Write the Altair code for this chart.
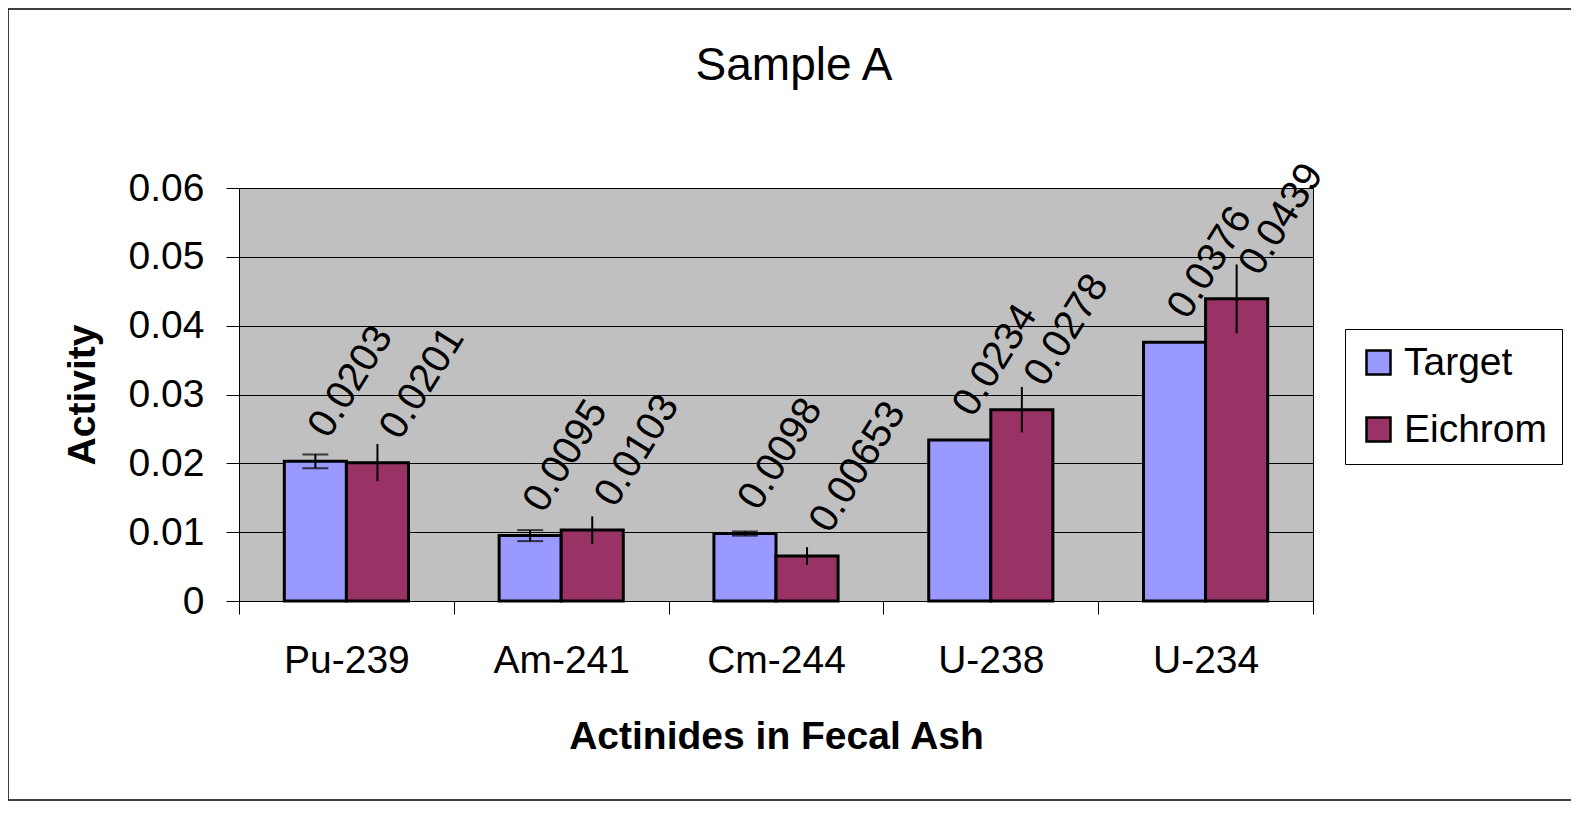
import altair as alt
import pandas as pd

categories = ["Pu-239", "Am-241", "Cm-244", "U-238", "U-234"]
series = ["Target", "Eichrom"]
target = [0.0203, 0.0095, 0.0098, 0.0234, 0.0376]
eichrom = [0.0201, 0.0103, 0.00653, 0.0278, 0.0439]
target_err = [0.001, 0.0008, 0.0003, None, None]
eichrom_err = [0.0027, 0.002, 0.0013, 0.0033, 0.005]
target_labels = ["0.0203", "0.0095", "0.0098", "0.0234", "0.0376"]
eichrom_labels = ["0.0201", "0.0103", "0.00653", "0.0278", "0.0439"]

rows = []
for i, c in enumerate(categories):
    rows.append(dict(Nuclide=c, Series="Target", Value=target[i], Err=target_err[i], Label=target_labels[i]))
    rows.append(dict(Nuclide=c, Series="Eichrom", Value=eichrom[i], Err=eichrom_err[i], Label=eichrom_labels[i]))
df = pd.DataFrame(rows)
df["Lo"] = df["Value"] - df["Err"]
df["Hi"] = df["Value"] + df["Err"]
err_df = df.dropna(subset=["Err"])
cap_df = err_df[err_df["Series"] == "Target"]
t_df = df[df["Series"] == "Target"]
e_df = df[df["Series"] == "Eichrom"]

FONT = "Liberation Sans"

x_enc = alt.X("Nuclide:N", sort=categories,
              scale=alt.Scale(paddingInner=0, paddingOuter=0),
              axis=alt.Axis(title="Actinides in Fecal Ash", labelAngle=0, tickBand="extent",
                            labelFontSize=39, labelFont=FONT, labelColor="#000",
                            titleFontSize=39, titleFont=FONT, titleFontWeight="bold", titleColor="#000",
                            tickSize=13, tickColor="#000", domainColor="#000", labelPadding=27,
                            titlePadding=37, grid=False))
xo = alt.XOffset("Series:N", sort=series,
                 scale=alt.Scale(domain=series, paddingInner=0, paddingOuter=0.73))
y_scale = alt.Scale(domain=[0, 0.06], nice=False)
y_enc = alt.Y("Value:Q", scale=y_scale,
              axis=alt.Axis(title="Activity", values=[0, 0.01, 0.02, 0.03, 0.04, 0.05, 0.06],
                            format=".2~f", labelFontSize=39, labelFont=FONT, labelColor="#000",
                            titleFontSize=39, titleFont=FONT, titleFontWeight="bold", titleColor="#000",
                            tickSize=13, tickColor="#000", domainColor="#000", labelPadding=22,
                            titlePadding=26, gridColor="#000", gridOpacity=1, gridWidth=1))

base = alt.Chart(df)

bars = base.mark_bar(stroke="#000", strokeWidth=3, opacity=1).encode(
    x=x_enc, xOffset=xo, y=y_enc,
    color=alt.Color("Series:N", sort=series,
                    scale=alt.Scale(domain=series, range=["#9999FF", "#993366"]),
                    legend=alt.Legend(title=None, orient="none", legendX=1106, legendY=141,
                                      labelFontSize=39, labelFont=FONT, labelColor="#000",
                                      symbolType="square", symbolSize=576, symbolStrokeColor="#000",
                                      symbolStrokeWidth=2.5, symbolOpacity=1, labelOffset=6,
                                      rowPadding=27, padding=14, strokeColor="#000",
                                      fillColor="#fff", cornerRadius=0)),
)

rules = alt.Chart(err_df).mark_rule(color="#000", strokeWidth=2).encode(
    x=alt.X("Nuclide:N", sort=categories), xOffset=xo,
    y=alt.Y("Lo:Q", scale=y_scale), y2="Hi:Q",
)

caps_lo = alt.Chart(cap_df).mark_tick(color="#000", thickness=2, size=26, orient="horizontal").encode(
    x=alt.X("Nuclide:N", sort=categories), xOffset=xo,
    y=alt.Y("Lo:Q", scale=y_scale),
)
caps_hi = alt.Chart(cap_df).mark_tick(color="#000", thickness=2, size=26, orient="horizontal").encode(
    x=alt.X("Nuclide:N", sort=categories), xOffset=xo,
    y=alt.Y("Hi:Q", scale=y_scale),
)

def label_layer(data, dx, dy):
    return alt.Chart(data).mark_text(angle=302, align="left", baseline="alphabetic", dx=dx, dy=dy,
                                     fontSize=40, font=FONT, color="#000").encode(
        x=alt.X("Nuclide:N", sort=categories), xOffset=xo,
        y=alt.Y("Value:Q", scale=y_scale),
        text="Label:N",
    )

labels_t = label_layer(t_df, 25, 0)
labels_e = label_layer(e_df, 30, 8)

frame = alt.Chart(alt.Data(values=[{}])).mark_rect(fill=None, stroke="#000", strokeWidth=1.5).encode(
    x=alt.value(-231), x2=alt.value(1335), y=alt.value(-179), y2=alt.value(612),
)

chart = alt.layer(bars, rules, caps_lo, caps_hi, labels_t, labels_e, frame).properties(
    width=1074, height=413,
    autosize="none",
    padding={"left": 231, "top": 180, "right": 258, "bottom": 205},
    background="#ffffff",
    title=alt.TitleParams("Sample A", fontSize=46, font=FONT, fontWeight="normal", color="#000",
                          anchor="middle", frame="group", dx=18, dy=118, baseline="alphabetic", offset=0),
).configure_view(fill="#C0C0C0", stroke="#000", strokeWidth=1)

chart.save("out.html", embed_options={"renderer": "svg", "actions": False})
